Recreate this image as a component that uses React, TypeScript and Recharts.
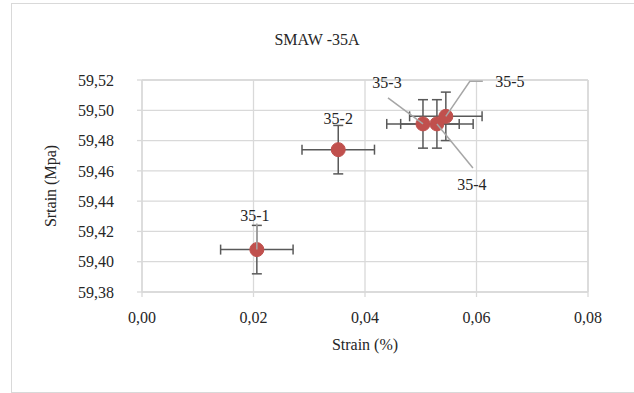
import React from 'react';
import {
  CartesianGrid,
  ErrorBar,
  LabelList,
  ReferenceLine,
  Scatter,
  ScatterChart,
  XAxis,
  YAxis,
} from 'recharts';

// values
const sampleNames = ['35-1', '35-2', '35-3', '35-4', '35-5'];
const strainValues = [0.0206, 0.0352, 0.0504, 0.0529, 0.0545];
const stressValues = [59.408, 59.474, 59.491, 59.491, 59.496];
const strainErrors = [0.0065, 0.0065, 0.0065, 0.0065, 0.0065];
const stressErrors = [0.016, 0.016, 0.016, 0.016, 0.016];

const xTicks = [0, 0.02, 0.04, 0.06, 0.08];
const yTicks = [59.38, 59.4, 59.42, 59.44, 59.46, 59.48, 59.5, 59.52];

const points = sampleNames.map((name, i) => ({
  name,
  x: strainValues[i],
  y: stressValues[i],
  ex: strainErrors[i],
  ey: stressErrors[i],
}));

// label placement relative to the marker (px), plus leader line path
const LABEL_LAYOUT: Record<string, { dx: number; dy: number; leader?: Array<[number, number]> }> = {
  '35-1': { dx: -2, dy: -34, leader: [[0, -26]] },
  '35-2': { dx: 0, dy: -31 },
  '35-3': { dx: -36, dy: -41, leader: [[-35, -26]] },
  '35-4': { dx: 35, dy: 61, leader: [[36, 44]] },
  '35-5': { dx: 64, dy: -35, leader: [[37, -35], [24, -35]] },
};

const FONT = '"Times New Roman", "Liberation Serif", serif';
const GRID = '#d9d9d9';
const TEXT = '#262626';

const fmt = (v: number) => v.toFixed(2).replace('.', ',');

function PointLabel(props: any) {
  const { x, y, width, height, value } = props;
  const cx = x + width / 2;
  const cy = y + height / 2;
  const layout = LABEL_LAYOUT[value];
  if (!layout) return null;
  const pts = layout.leader
    ? [...layout.leader.map(([lx, ly]) => `${cx + lx},${cy + ly}`), `${cx},${cy}`].join(' ')
    : null;
  return (
    <g>
      {pts && <polyline points={pts} fill="none" stroke="#a6a6a6" strokeWidth={1.5} />}
      <text
        x={cx + layout.dx}
        y={cy + layout.dy}
        textAnchor="middle"
        dominantBaseline="central"
        fontFamily={FONT}
        fontSize={16}
        fill={TEXT}
      >
        {value}
      </text>
    </g>
  );
}

function Marker(props: any) {
  const { cx, cy } = props;
  return <circle cx={cx} cy={cy} r={7} fill="#c0504d" stroke="#c0504d" />;
}

export default function App() {
  return (
    <div
      style={{
        position: 'absolute',
        left: 0,
        top: 0,
        width: 634,
        height: 393,
        overflow: 'hidden',
        background: '#fff',
        fontFamily: FONT,
      }}
    >
      <div
        style={{
          position: 'absolute',
          left: 11,
          top: 3,
          width: 640,
          height: 388,
          border: `1px solid ${GRID}`,
        }}
      />
      <div
        style={{
          position: 'absolute',
          left: 0,
          top: 40,
          width: 634,
          textAlign: 'center',
          fontFamily: FONT,
          fontSize: 16,
          color: TEXT,
          lineHeight: '1',
          transform: 'translateY(-50%)',
        }}
      >
        SMAW -35A
      </div>
      <div style={{ position: 'absolute', left: 0, top: 0 }}>
        <ScatterChart
          width={634}
          height={393}
          margin={{ top: 80, right: 46, bottom: 41, left: 0 }}
        >
          <CartesianGrid stroke={GRID} strokeWidth={1.3} />
          <XAxis
            type="number"
            dataKey="x"
            domain={[0, 0.08]}
            ticks={xTicks}
            tickFormatter={fmt}
            height={60}
            stroke={GRID}
            strokeWidth={1.3}
            tickSize={5}
            tickMargin={15}
            tick={{ fill: TEXT, fontSize: 16, fontFamily: FONT }}
            label={{
              value: 'Strain (%)',
              position: 'insideBottom',
              offset: 2,
              fill: TEXT,
              fontSize: 16,
              fontFamily: FONT,
            }}
          />
          <YAxis
            type="number"
            dataKey="y"
            domain={[59.38, 59.52]}
            ticks={yTicks}
            tickFormatter={fmt}
            width={142}
            stroke={GRID}
            strokeWidth={1.3}
            tickSize={5}
            tickMargin={23}
            tick={{ fill: TEXT, fontSize: 16, fontFamily: FONT }}
            label={{
              value: 'Srtain (Mpa)',
              angle: -90,
              position: 'insideLeft',
              offset: 50,
              style: { textAnchor: 'middle' },
              fill: TEXT,
              fontSize: 16,
              fontFamily: FONT,
            }}
          />
          <ReferenceLine y={59.52} stroke={GRID} strokeWidth={1.5} ifOverflow="extendDomain" />
          <ReferenceLine x={0.08} stroke={GRID} strokeWidth={1.5} ifOverflow="extendDomain" />
          <Scatter data={points} shape={<Marker />} isAnimationActive={false}>
            <ErrorBar dataKey="ex" direction="x" width={5} stroke="#595959" strokeWidth={1.5} />
            <ErrorBar dataKey="ey" direction="y" width={5} stroke="#595959" strokeWidth={1.5} />
            <LabelList dataKey="name" content={<PointLabel />} />
          </Scatter>
        </ScatterChart>
      </div>
    </div>
  );
}
